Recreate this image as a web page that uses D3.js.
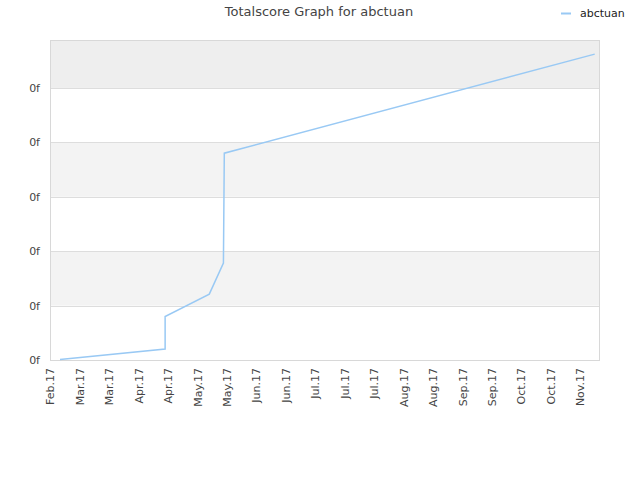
<!DOCTYPE html>
<html><head><meta charset="utf-8">
<script src="https://cdn.jsdelivr.net/npm/d3@7"></script>
<style>body{margin:0;background:#fff;} svg{display:block;font-family:"DejaVu Sans",sans-serif;}</style>
</head><body><svg id="c" width="640" height="480"></svg>
<script>
const title = "Totalscore Graph for abctuan";
const seriesName = "abctuan";
const tickLabels = ["Feb.17","Mar.17","Mar.17","Apr.17","Apr.17","May.17","May.17","Jun.17","Jun.17","Jul.17","Jul.17","Jul.17","Aug.17","Aug.17","Sep.17","Sep.17","Oct.17","Oct.17","Nov.17"];
const yTickValues = [0,1,2,3,4,5];
const yTickLabels = ["0f","0f","0f","0f","0f","0f"];
// x in tick-index units, y in gridline units
const xVals = [0.34, 3.91, 3.91, 5.41, 5.89, 5.92, 18.5];
const yVals = [0.01, 0.20, 0.80, 1.21, 1.78, 3.80, 5.62];

const svg = d3.select("#c");
const L=50, R=600, T=40, B=360;
const x = d3.scaleLinear().domain([0, 18.68]).range([L, R]);
const y = d3.scaleLinear().domain([0, 5.88]).range([B, T]);

// bands
const bandEdges = [0,1,2,3,4,5,5.88];
for (let i=0;i<bandEdges.length-1;i++){
  if (i%2===1){
    svg.append("rect").attr("x",L).attr("width",R-L)
      .attr("y",y(bandEdges[i+1])).attr("height",y(bandEdges[i])-y(bandEdges[i+1]))
      .attr("fill", i===5 ? "#eeeeee" : "#f3f3f3");
  }
}
// gridlines
svg.append("g").selectAll("line").data(yTickValues.slice(1)).join("line")
  .attr("x1",L).attr("x2",R).attr("y1",d=>Math.round(y(d))+0.5).attr("y2",d=>Math.round(y(d))+0.5)
  .attr("stroke","#dddddd");
// frame
svg.append("rect").attr("x",L+0.5).attr("y",T+0.5).attr("width",R-L-1).attr("height",B-T)
  .attr("fill","none").attr("stroke","#d8d8d8");

// y labels
svg.append("g").selectAll("text").data(yTickValues).join("text")
  .attr("x",40).attr("y",d=>y(d)+4).attr("text-anchor","end")
  .attr("font-size",11).attr("fill","#444").text((d,i)=>yTickLabels[i]);

// x axis labels
const xAxis = d3.axisBottom(x).tickValues(d3.range(tickLabels.length)).tickFormat(i=>tickLabels[i]).tickSize(0);
const gx = svg.append("g").attr("transform",`translate(0,${B})`).call(xAxis);
gx.select(".domain").remove();
gx.selectAll("text").attr("font-size",11).attr("fill","#444").attr("font-family","DejaVu Sans")
  .attr("text-anchor","end").attr("transform","rotate(-90)").attr("x",-8).attr("y",0).attr("dy","0.35em");

// line
const pts = xVals.map((v,i)=>[v,yVals[i]]);
svg.append("path").datum(pts)
  .attr("d", d3.line().x(d=>x(d[0])).y(d=>y(d[1])))
  .attr("fill","none").attr("stroke","#99c9f4").attr("stroke-width",1.5);

// title
svg.append("text").attr("x",319).attr("y",16).attr("text-anchor","middle")
  .attr("font-size",13).attr("fill","#444").text(title);
// legend
svg.append("line").attr("x1",561).attr("x2",571).attr("y1",13.5).attr("y2",13.5)
  .attr("stroke","#99c9f4").attr("stroke-width",2);
svg.append("text").attr("x",580).attr("y",17).attr("font-size",11).attr("fill","#222").text(seriesName);
</script></body></html>
